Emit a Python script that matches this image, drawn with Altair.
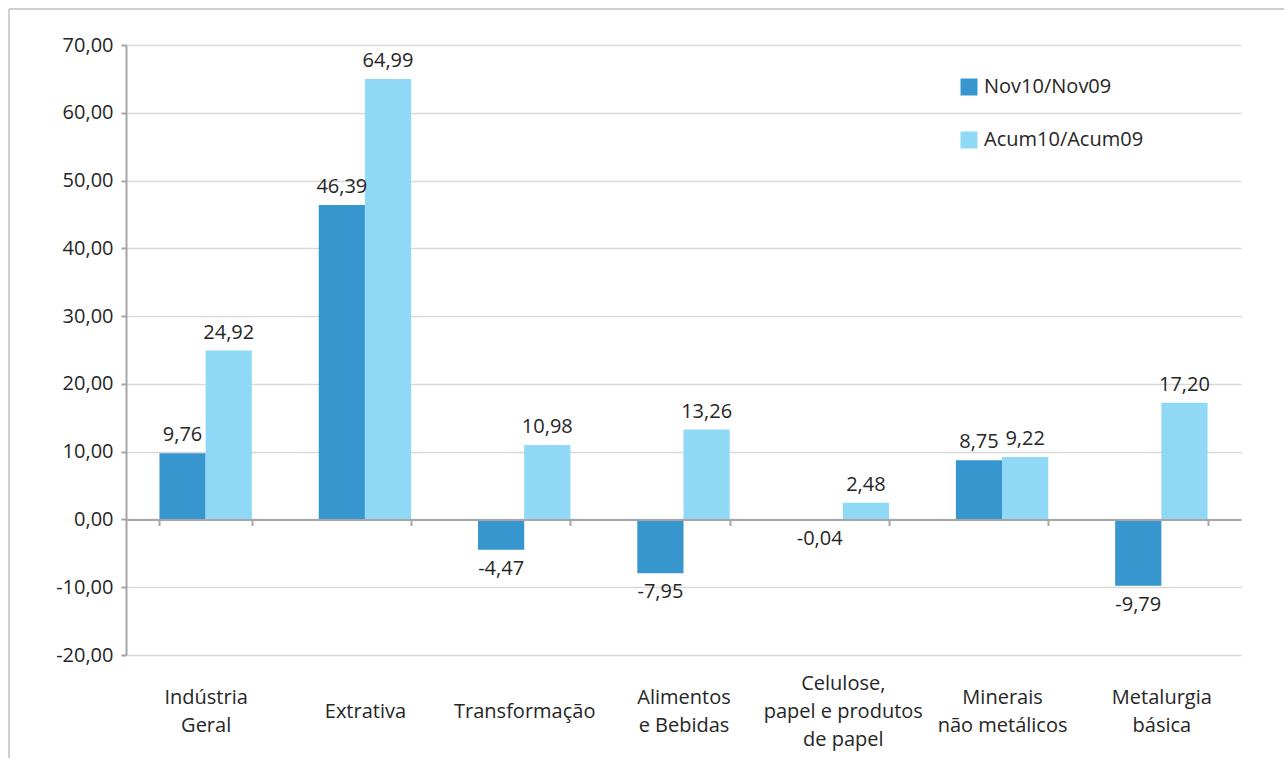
import altair as alt
import pandas as pd

categories = ["Indústria|Geral", "Extrativa", "Transformação", "Alimentos|e Bebidas",
              "Celulose,|papel e produtos|de papel", "Minerais|não metálicos", "Metalurgia|básica"]
series_names = ["Nov10/Nov09", "Acum10/Acum09"]
nov_values = [9.76, 46.39, -4.47, -7.95, -0.04, 8.75, -9.79]
acum_values = [24.92, 64.99, 10.98, 13.26, 2.48, 9.22, 17.20]
y_ticks = [-20, -10, 0, 10, 20, 30, 40, 50, 60, 70]
colors = ["#3796CD", "#8FD8F6"]

rows = []
for s, vals in zip(series_names, [nov_values, acum_values]):
    for c, v in zip(categories, vals):
        rows.append({"cat": c, "serie": s, "value": v,
                     "label": f"{v:.2f}".replace(".", ",")})
df = pd.DataFrame(rows)

W, H = 1115, 610
FONT = "Open Sans"
TXT = "#262626"
AX = "#A6A6A6"
LH = 28
PAD = 186

nlines = "length(split(datum.label, '|'))"
label_pad = {
    "condition": [
        {"test": f"{nlines} == 3", "value": PAD - LH},
        {"test": f"{nlines} == 2", "value": PAD - LH / 2},
    ],
    "value": PAD,
}

x_enc = alt.X("cat:N", sort=categories,
              scale=alt.Scale(paddingInner=0.42, paddingOuter=0.21),
              axis=alt.Axis(title=None, orient="bottom", offset=-(2 / 9) * H,
                            domainColor=AX, domainWidth=2, tickColor=AX, tickWidth=2,
                            tickSize=6, tickBand="extent", labelAngle=0,
                            labelPadding=label_pad, labelBaseline="middle",
                            labelFontSize=20, labelLineHeight=LH, labelColor=TXT,
                            labelFont=FONT, labelExpr="split(datum.label, '|')",
                            zindex=1, grid=False))
y_scale = alt.Scale(domain=[-20, 70], nice=False, zero=False)
xoff = alt.XOffset("serie:N", sort=series_names,
                   scale=alt.Scale(paddingInner=0, paddingOuter=0))

bars = alt.Chart(df).mark_bar().encode(
    x=x_enc,
    xOffset=xoff,
    y=alt.Y("value:Q", scale=y_scale,
            axis=alt.Axis(title=None, values=y_ticks, domainColor=AX, domainWidth=2,
                          tickColor=AX, tickWidth=2, tickSize=5, labelPadding=8,
                          labelFontSize=20, labelColor=TXT, labelFont=FONT,
                          labelExpr="replace(replace(format(datum.value, '.2f'), '.', ','), '\u2212', '-')",
                          gridColor="#D9D9D9", gridWidth=1.3)),
    color=alt.Color("serie:N", sort=series_names,
                    scale=alt.Scale(domain=series_names, range=colors),
                    legend=alt.Legend(title=None, orient="none", legendX=833, legendY=32,
                                      symbolType="square", symbolSize=289,
                                      symbolStrokeWidth=0, labelFontSize=20,
                                      labelFont=FONT, labelColor=TXT, rowPadding=33,
                                      labelOffset=5)),
)

pos_labels = alt.Chart(df).transform_filter("datum.value >= 0").mark_text(
    baseline="middle", dy=-18, fontSize=20, font=FONT, color=TXT
).encode(x=alt.X("cat:N", sort=categories), xOffset=xoff,
         y=alt.Y("value:Q", scale=y_scale), text="label:N")

neg_labels = alt.Chart(df).transform_filter("datum.value < 0").mark_text(
    baseline="middle", dy=19, fontSize=20, font=FONT, color=TXT
).encode(x=alt.X("cat:N", sort=categories), xOffset=xoff,
         y=alt.Y("value:Q", scale=y_scale), text="label:N")

frame_data = alt.Data(values=[{"k": 1}])
frame_top = alt.Chart(frame_data).mark_rule(color="#BFBFBF", strokeWidth=1.5).encode(
    x=alt.value(-117), x2=alt.value(1284 - 126), y=alt.value(-36))
frame_left = alt.Chart(frame_data).mark_rule(color="#BFBFBF", strokeWidth=1.5).encode(
    x=alt.value(-117), y=alt.value(-36), y2=alt.value(758 - 45))

chart = alt.layer(bars, pos_labels, neg_labels, frame_top, frame_left).properties(
    width=W, height=H,
    autosize=alt.AutoSizeParams(type="none"),
    padding={"left": 126, "top": 45, "right": 43, "bottom": 103},
    background="white",
).configure_view(stroke=None)

chart.save("out.html", embed_options={"renderer": "svg", "actions": False})
